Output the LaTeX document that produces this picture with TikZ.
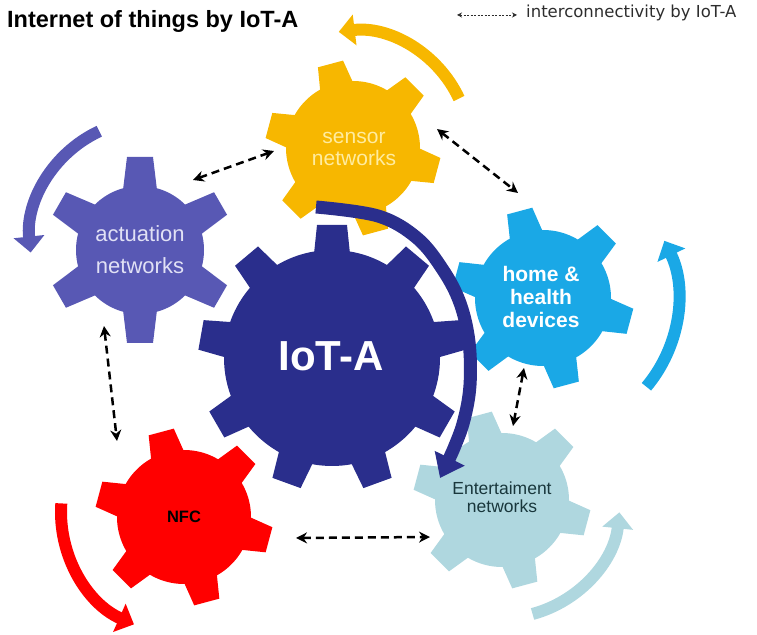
\documentclass[tikz,border=0pt]{standalone}
\usepackage{fontspec}
\setmainfont{Liberation Sans}
\newfontfamily\legendfont{DejaVu Sans}
\usetikzlibrary{arrows.meta}

\definecolor{actcol}{RGB}{88,88,180}
\definecolor{sencol}{RGB}{247,183,0}
\definecolor{homecol}{RGB}{26,168,230}
\definecolor{nfccol}{RGB}{255,0,0}
\definecolor{entcol}{RGB}{175,215,223}
\definecolor{iotcol}{RGB}{42,46,140}
\definecolor{acttext}{RGB}{225,225,245}
\definecolor{sentext}{RGB}{255,236,160}
\definecolor{enttext}{RGB}{25,55,60}
\definecolor{legendgray}{RGB}{45,45,45}

\tikzset{
  linkarrow/.style={line width=2.5pt, dash pattern=on 8pt off 5pt,
    {Stealth[length=11pt,width=11pt]}-{Stealth[length=11pt,width=11pt]}},
  spinarrow/.style={line width=12pt, -{Triangle[width=30pt,length=16pt]}},
  gearlabel/.style={inner sep=0pt, align=center}
}

\begin{document}
\begin{tikzpicture}[x=1pt,y=1pt]
    \useasboundingbox (0,0) rectangle (757,634);

    % gears
    \foreach \cx/\cy/\nt/\ri/\ro/\off/\wt/\wb/\col in {
        140/384/6/64/93/30/13/17/actcol,
        353/486/6/67/87/45/13/17/sencol,
        543/336/6/68/90/45/13/17/homecol,
        184/117/6/67/88/45/13/17/nfccol,
        502/134/6/67/88/45/13/17/entcol,
        332/276/9/108/133/90/15/18/iotcol}
    {
        \fill[\col] (\cx,\cy) circle (\ri);
        \foreach \k in {1,...,\nt}
            \fill[\col, shift={(\cx,\cy)}, rotate=\off+\k*360/\nt]
                (\ri-4,-\wb) -- (\ro,-\wt) -- (\ro,\wt) -- (\ri-4,\wb) -- cycle;
    }

    % turning arrows
    \draw [spinarrow, sencol] ([shift={(25:117)}]353,486) arc [start angle=25, end angle=97, radius=117];
    \draw [spinarrow, actcol] ([shift={(115:120)}]150,394) arc [start angle=115, end angle=186, radius=120];
    \draw [spinarrow, homecol] ([shift={(-40:135)}]543,334) arc [start angle=-40, end angle=26, radius=135];
    \draw [spinarrow, nfccol] ([shift={(176:123)}]184,122) arc [start angle=176, end angle=246, radius=123];
    \draw [spinarrow, entcol] ([shift={(-75:118)}]502,134) arc [start angle=-75, end angle=-6, radius=118];
    %% big one round IoT-A
    \draw [spinarrow, iotcol, line width=13pt, -{Triangle[width=32pt,length=22pt]}]
        plot [smooth, tension=0.6] coordinates {(316,427) (378,418) (417,396) (443,364) (460,331)
        (469,292) (470,249) (464,214) (454,186) (440,156)};

    % Labels
    \node [gearlabel, text=acttext, font=\fontsize{22}{32}\selectfont] (act) at (140,384) {actuation\\networks};
    \node [gearlabel, text=sentext, font=\fontsize{21}{22}\selectfont] (sen) at (354,485) {sensor\\networks};
    \node [gearlabel, text=white, font=\bfseries\fontsize{21}{23.3}\selectfont] (home) at (541,337) {home \&\\health\\devices};
    \node [gearlabel, text=white, font=\bfseries\fontsize{42}{46}\selectfont] (iot) at (331,278) {IoT-A};
    \node [gearlabel, text=black, font=\bfseries\fontsize{16.5}{18}\selectfont] (nfc) at (184,117) {NFC};
    \node [gearlabel, text=enttext, font=\fontsize{17.5}{17.5}\selectfont] (ent) at (502,137) {Entertaiment\\networks};

    % title and legend
    \node [anchor=base west, inner sep=0pt, font=\bfseries\fontsize{23.5}{28}\selectfont] (title) at (7,606) {Internet of things by IoT-A};
    \node [anchor=base west, inner sep=0pt, text=legendgray, font=\legendfont\fontsize{16.5}{20}\selectfont] (legend) at (526,616) {interconnectivity by IoT-A};

    % interconnectivity
    \coordinate (actS) at (193,454);
    \coordinate (senA) at (274,483);
    \coordinate (senH) at (437,505);
    \coordinate (homeS) at (518,441);
    \coordinate (actN) at (104,308);
    \coordinate (nfcA) at (117,193);
    \coordinate (homeE) at (524,266);
    \coordinate (entH) at (513,208);
    \coordinate (nfcE) at (296,96);
    \coordinate (entN) at (430,97);
    \coordinate (legL) at (457,619);
    \coordinate (legR) at (517,619);

    \draw [linkarrow] (actS) -- (senA);
    \draw [linkarrow] (senH) -- (homeS);
    \draw [linkarrow] (actN) -- (nfcA);
    \draw [linkarrow] (homeE) -- (entH);
    \draw [linkarrow] (nfcE) -- (entN);
    \draw [linkarrow, legendgray, line width=0.8pt, dash pattern=on 2pt off 1.5pt,
        {Stealth[length=5pt,width=5pt]}-{Stealth[length=5pt,width=5pt]}] (legL) -- (legR);

\end{tikzpicture}
\end{document}
